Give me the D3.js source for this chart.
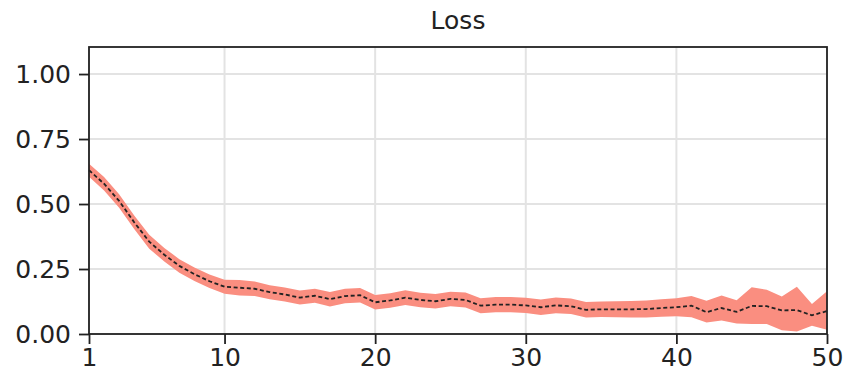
<!DOCTYPE html>
<html>
<head>
<meta charset="utf-8">
<script src="https://cdn.jsdelivr.net/npm/d3@7"></script>
<style>
  body { margin: 0; background: #fff; }
  svg text { font-family: "DejaVu Sans", sans-serif; fill: #222; }
</style>
</head>
<body>
<svg id="chart" width="851" height="386"></svg>
<script>
const epochs = d3.range(1, 51);
const xTicks = [1, 10, 20, 30, 40, 50];
const yTicks = [0, 0.25, 0.5, 0.75, 1.0];

const lossMean = [
  0.630, 0.578, 0.512, 0.430, 0.355, 0.305, 0.262, 0.230, 0.203, 0.182,
  0.178, 0.174, 0.161, 0.152, 0.140, 0.147, 0.134, 0.146, 0.149, 0.122,
  0.129, 0.140, 0.131, 0.126, 0.135, 0.131, 0.109, 0.113, 0.113, 0.110,
  0.103, 0.110, 0.107, 0.093, 0.095, 0.095, 0.095, 0.096, 0.100, 0.103,
  0.109, 0.084, 0.100, 0.085, 0.108, 0.107, 0.091, 0.092, 0.072, 0.088
];
const lossUpper = [
  0.655, 0.604, 0.538, 0.456, 0.382, 0.331, 0.288, 0.256, 0.229, 0.209,
  0.208, 0.202, 0.188, 0.179, 0.167, 0.174, 0.162, 0.174, 0.177, 0.150,
  0.157, 0.168, 0.159, 0.154, 0.163, 0.160, 0.138, 0.142, 0.142, 0.139,
  0.133, 0.140, 0.137, 0.123, 0.125, 0.126, 0.127, 0.129, 0.134, 0.138,
  0.146, 0.128, 0.148, 0.130, 0.180, 0.170, 0.144, 0.182, 0.115, 0.164
];
const lossLower = [
  0.605, 0.552, 0.486, 0.404, 0.328, 0.279, 0.236, 0.204, 0.177, 0.155,
  0.148, 0.146, 0.134, 0.125, 0.113, 0.120, 0.106, 0.118, 0.121, 0.094,
  0.101, 0.112, 0.103, 0.098, 0.107, 0.102, 0.080, 0.084, 0.084, 0.081,
  0.073, 0.080, 0.077, 0.063, 0.065, 0.064, 0.063, 0.063, 0.066, 0.068,
  0.064, 0.044, 0.052, 0.040, 0.038, 0.038, 0.014, 0.010, 0.032, 0.016
];

const svg = d3.select('#chart');
const margin = { top: 47, right: 24, bottom: 52, left: 89 };
const width = 851 - margin.left - margin.right;
const height = 386 - margin.top - margin.bottom;

const x = d3.scaleLinear().domain([1, 50]).range([0, width]);
const y = d3.scaleLinear().domain([0, 1.104]).range([height, 0]);

const g = svg.append('g').attr('transform', `translate(${margin.left},${margin.top})`);

// grid
g.append('g').selectAll('line').data(xTicks).join('line')
  .attr('x1', d => x(d)).attr('x2', d => x(d))
  .attr('y1', 0).attr('y2', height)
  .attr('stroke', '#e3e3e3').attr('stroke-width', 2);
g.append('g').selectAll('line').data(yTicks).join('line')
  .attr('x1', 0).attr('x2', width)
  .attr('y1', d => y(d)).attr('y2', d => y(d))
  .attr('stroke', '#e3e3e3').attr('stroke-width', 2);

// std band + mean line
const rows = epochs.map((e, i) => ({ e, m: lossMean[i], lo: lossLower[i], hi: lossUpper[i] }));
const area = d3.area().x(d => x(d.e)).y0(d => y(d.lo)).y1(d => y(d.hi));
g.append('path').datum(rows)
  .attr('fill', '#fa8e80').attr('d', area);

const line = d3.line().x(d => x(d.e)).y(d => y(d.m));
g.append('path').datum(rows)
  .attr('fill', 'none').attr('stroke', '#222').attr('stroke-width', 1.8)
  .attr('stroke-dasharray', '4,2.6').attr('d', line);

// axes
const xAxis = g.append('g').attr('transform', `translate(0,${height})`)
  .call(d3.axisBottom(x).tickValues(xTicks).tickFormat(d3.format('d')).tickSize(10).tickPadding(4));
const yAxis = g.append('g')
  .call(d3.axisLeft(y).tickValues(yTicks).tickFormat(d3.format('.2f')).tickSize(10).tickPadding(8));
[xAxis, yAxis].forEach(a => {
  a.select('.domain').remove();
  a.selectAll('line').attr('stroke', '#222').attr('stroke-width', 1.8);
  a.selectAll('text').style('font-size', '25px').style('font-family', '"DejaVu Sans", sans-serif').attr('fill', '#222');
});

// frame
g.append('rect').attr('width', width).attr('height', height)
  .attr('fill', 'none').attr('stroke', '#222').attr('stroke-width', 1.8);

svg.append('text').attr('x', margin.left + width / 2).attr('y', 29)
  .attr('text-anchor', 'middle').style('font-size', '25px').text('Loss');
</script>
</body>
</html>
